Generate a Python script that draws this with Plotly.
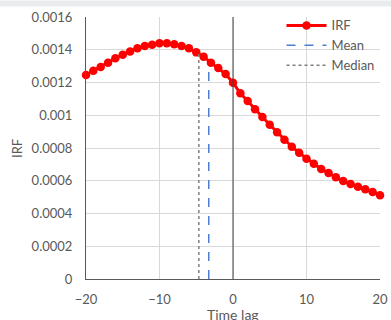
import plotly.graph_objects as go

lags = list(range(-20, 21))
irf = [0.001246, 0.001272, 0.001295, 0.001321, 0.001348, 0.001370, 0.001390, 0.001409,
       0.001423, 0.001431, 0.001439, 0.001439, 0.001433, 0.001423, 0.001409, 0.001384,
       0.001358, 0.001321, 0.001288, 0.001252, 0.001199,
       0.001134, 0.001087, 0.001036, 0.000989, 0.000942, 0.000896, 0.000851, 0.000808,
       0.000771, 0.000735, 0.000704, 0.000672, 0.000647, 0.000621, 0.000598, 0.000580,
       0.000564, 0.000548, 0.000531, 0.000511]
mean_x = [-3.3, -3.3]
mean_y = [0, 0.001315]
median_x = [-4.65, -4.65]
median_y = [0, 0.001388]
y_ticks = [0, 0.0002, 0.0004, 0.0006, 0.0008, 0.001, 0.0012, 0.0014, 0.0016]
y_tick_text = ["0", "0.0002", "0.0004", "0.0006", "0.0008", "0.001", "0.0012", "0.0014", "0.0016"]
x_ticks = [-20, -10, 0, 10, 20]

FONT = "Lato, Open Sans, sans-serif"
TXT = "#595959"

fig = go.Figure()
fig.add_trace(go.Scatter(x=lags, y=irf, mode="lines+markers", name="IRF",
                         line=dict(color="#ff0000", width=3),
                         marker=dict(color="#ff0000", size=8.5),
                         cliponaxis=False))
fig.add_trace(go.Scatter(x=mean_x, y=mean_y, mode="lines", name="Mean",
                         line=dict(color="#4f7fd0", width=1.5, dash="dash")))
fig.add_trace(go.Scatter(x=median_x, y=median_y, mode="lines", name="Median",
                         line=dict(color="#7f7f7f", width=1.5, dash="dot")))

fig.add_vline(x=0, line=dict(color="#404040", width=1))

# light grey strip along the very top of the image
fig.add_annotation(xref="paper", yref="paper", x=-0.3, y=1.065, xanchor="left",
                   yanchor="top", text=" ", showarrow=False, width=400, height=5,
                   bgcolor="#e9ebee", borderpad=0, font=dict(size=4))

fig.add_annotation(xref="paper", yref="paper", x=0.5, y=-0.097, xanchor="center",
                   yanchor="top", text="Time lag", showarrow=False,
                   font=dict(size=14, color=TXT))
fig.add_annotation(xref="paper", yref="paper", x=-0.235, y=0.5, xanchor="center",
                   yanchor="middle", text="IRF", showarrow=False, textangle=-90,
                   font=dict(size=13, color=TXT))

fig.update_layout(
    width=391, height=320,
    margin=dict(l=86, r=11, t=17, b=41, autoexpand=False),
    paper_bgcolor="white", plot_bgcolor="white",
    font=dict(family=FONT, color=TXT, size=13),
    showlegend=True,
    legend=dict(x=0.665, y=1.025, xanchor="left", yanchor="top",
                bgcolor="rgba(0,0,0,0)", font=dict(size=13, color=TXT),
                tracegroupgap=0, itemwidth=40),
)
fig.update_xaxes(range=[-20, 20], tickvals=x_ticks, showgrid=True, gridcolor="#d9d9d9",
                 zeroline=False, showline=True, linecolor="#595959", linewidth=1,
                 mirror=False, ticks="outside", ticklen=8, tickcolor="rgba(0,0,0,0)",
                 automargin=False, tickfont=dict(size=13, color=TXT))
fig.update_yaxes(range=[0, 0.0016], tickvals=y_ticks, ticktext=y_tick_text,
                 showgrid=True, gridcolor="#d9d9d9", zeroline=False, showline=True,
                 linecolor="#595959", linewidth=1, ticks="outside", ticklen=10,
                 tickcolor="rgba(0,0,0,0)", automargin=False,
                 tickfont=dict(size=13, color=TXT))

fig.write_html("out.html")
